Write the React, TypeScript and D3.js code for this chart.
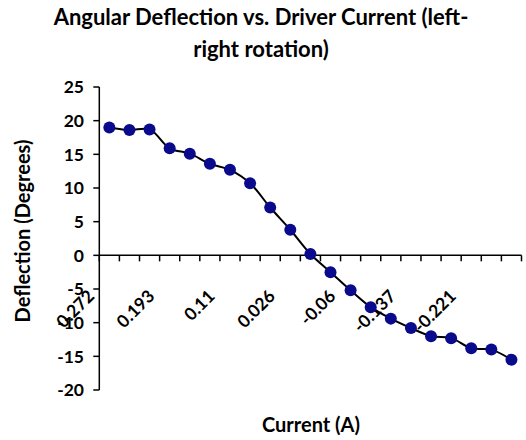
import * as d3 from "d3";

// Driver current (A), only every third category is labelled on the chart
const currentLabels = [
  "0.272", "", "", "0.193", "", "", "0.11", "", "", "0.026", "",
  "", "-0.06", "", "", "-0.137", "", "", "-0.221", "", "",
];

// Angular deflection (degrees), one per category
const deflection = [
  19.0, 18.6, 18.7, 15.9, 15.1, 13.6, 12.7, 10.7, 7.1, 3.8, 0.2,
  -2.5, -5.2, -7.7, -9.4, -10.8, -12.0, -12.3, -13.8, -14.0, -15.5,
];

const yTicks = [-20, -15, -10, -5, 0, 5, 10, 15, 20, 25];

const titleLines = ["Angular Deflection vs. Driver Current (left-", "right rotation)"];

export default function App() {
  const width = 526;
  const height = 440;
  const font = "Lato, 'Open Sans', sans-serif";

  const x = d3
    .scaleBand<number>()
    .domain(currentLabels.map((_, i) => i))
    .range([99.3, 521.5]);

  const y = d3.scaleLinear().domain([-20, 25]).range([390, 87]);

  const line = d3
    .line<number>()
    .x((_, i) => x(i)! + x.bandwidth() / 2)
    .y((d) => y(d))
    .curve(d3.curveCatmullRom);

  const y0 = y(0);
  const left = x.range()[0];
  const boundaries = currentLabels.map((_, i) => x(i)!).concat([x.range()[1]]);

  return (
    <div style={{ position: "fixed", left: 0, top: 0 }}>
      <svg width={width} height={height} style={{ display: "block", background: "#fff" }}>
        {/* title */}
        {titleLines.map((t, i) => (
          <text
            key={t}
            x={261}
            y={25 + i * 32}
            textAnchor="middle"
            fontFamily={font}
            fontWeight="bold"
            fontSize={22}
            fill="#000"
          >
            {t}
          </text>
        ))}

        {/* y axis */}
        <line x1={left} x2={left} y1={y(25)} y2={y(-20)} stroke="#000" strokeWidth={1.5} />
        {yTicks.map((t) => (
          <g key={t} transform={`translate(0,${y(t)})`}>
            <line x1={left - 6} x2={left} stroke="#000" strokeWidth={1.5} />
            <text x={84} dy="0.36em" textAnchor="end" fontFamily={font} fontWeight="bold" fontSize={17.5}>
              {t}
            </text>
          </g>
        ))}

        {/* x axis at zero */}
        <line x1={left} x2={x.range()[1]} y1={y0} y2={y0} stroke="#000" strokeWidth={1.5} />
        {boundaries.map((b, i) => (
          <line key={i} x1={b} x2={b} y1={y0} y2={y0 + 6} stroke="#000" strokeWidth={1.5} />
        ))}
        {currentLabels.map((lab, i) =>
          lab ? (
            <g key={i} transform={`translate(${x(i)! + x.bandwidth() / 2 - 14},${y0 + 42})`}>
              <text transform="rotate(-45)" textAnchor="end" fontFamily={font} fontWeight="bold" fontSize={17.5}>
                {lab}
              </text>
            </g>
          ) : null
        )}

        {/* series */}
        <path d={line(deflection) ?? ""} fill="none" stroke="#000" strokeWidth={2} />
        {deflection.map((d, i) => (
          <circle key={i} cx={x(i)! + x.bandwidth() / 2} cy={y(d)} r={6} fill="#0a0a8c" />
        ))}

        {/* axis titles */}
        <g transform="translate(30,231)">
          <text transform="rotate(-90)" textAnchor="middle" fontFamily={font} fontWeight="bold" fontSize={20}>
            Deflection (Degrees)
          </text>
        </g>
        <text x={311} y={432} textAnchor="middle" fontFamily={font} fontWeight="bold" fontSize={20}>
          Current (A)
        </text>
      </svg>
    </div>
  );
}
